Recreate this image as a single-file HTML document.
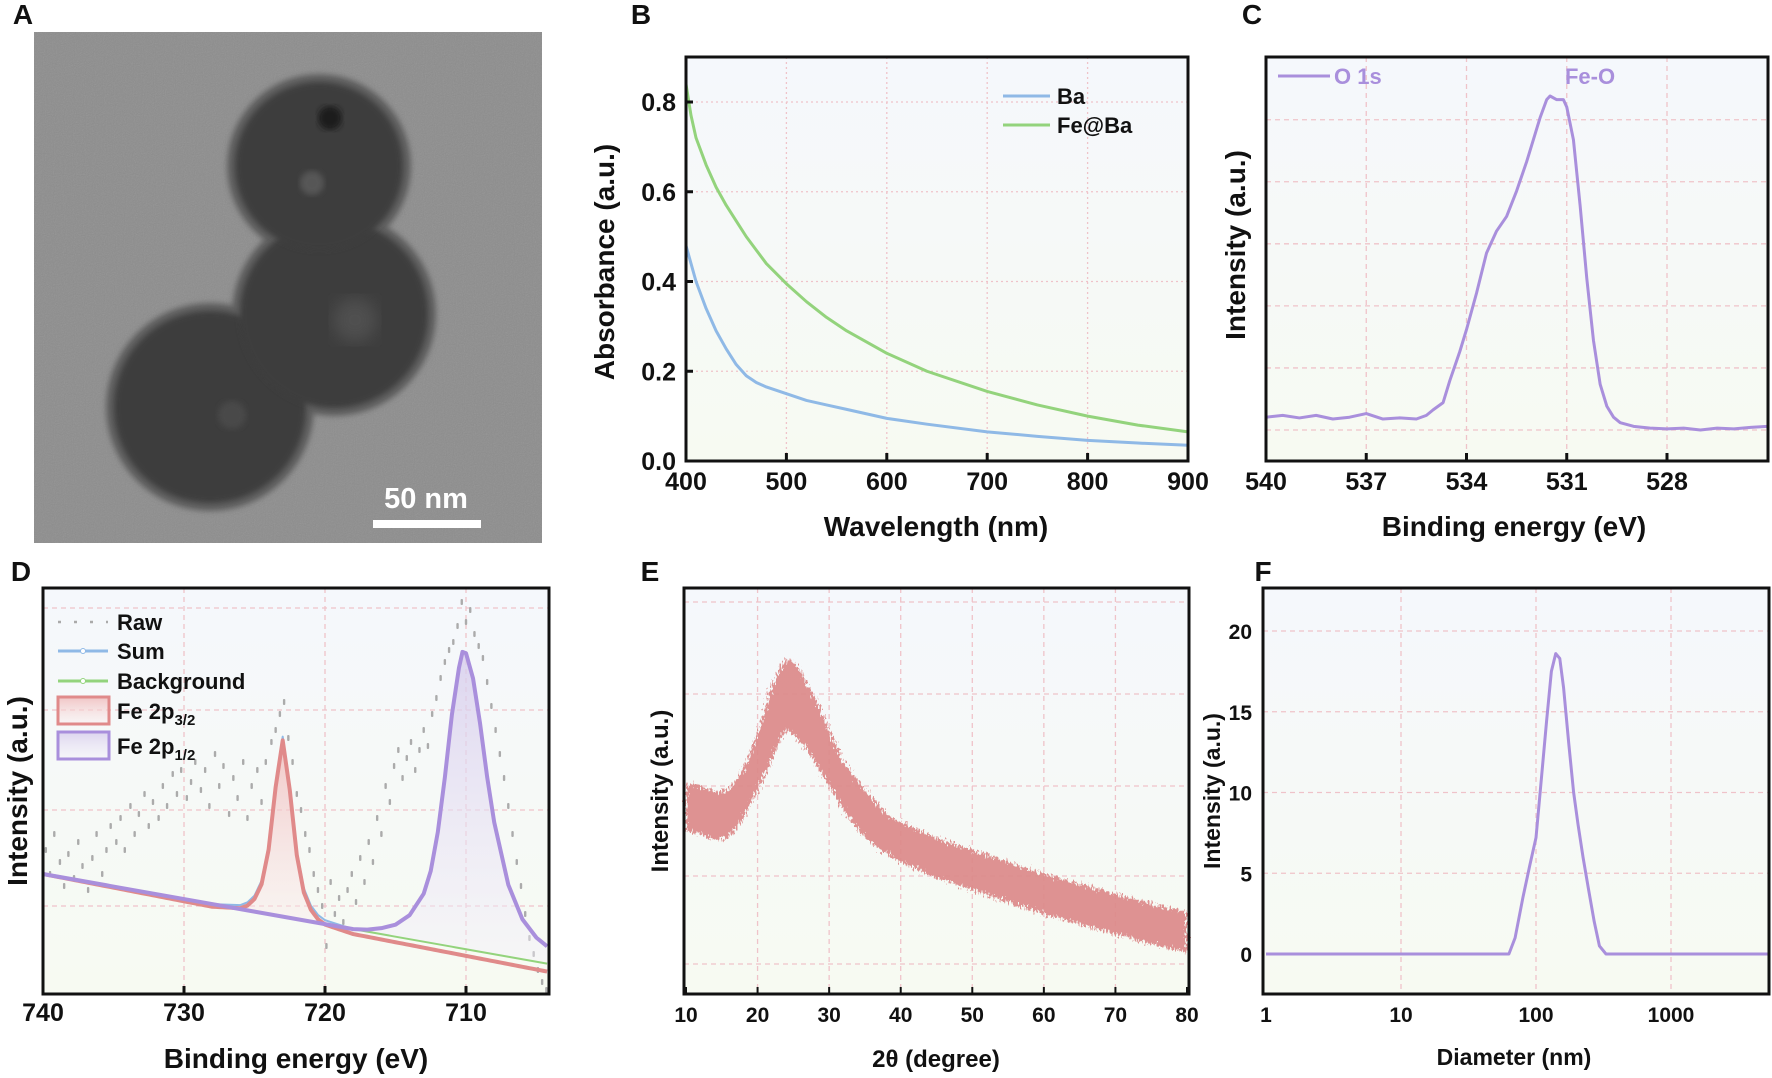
<!DOCTYPE html>
<html><head><meta charset="utf-8"><style>
html,body{margin:0;padding:0;background:#fff;}
svg{display:block;font-family:"Liberation Sans",Arial,sans-serif;font-weight:bold;}
</style></head><body>
<svg id="fig" width="1772" height="1078" viewBox="0 0 1772 1078" xmlns="http://www.w3.org/2000/svg">
<defs>
<linearGradient id="bgGrad" x1="0" y1="0" x2="0" y2="1"><stop offset="0" stop-color="#f5f8fc"/><stop offset="1" stop-color="#f7faf2"/></linearGradient>
<linearGradient id="redFill" x1="0" y1="0" x2="0" y2="1"><stop offset="0" stop-color="#f0b8b8" stop-opacity="0.8"/><stop offset="1" stop-color="#fbeeee" stop-opacity="0.4"/></linearGradient>
<linearGradient id="purFill" x1="0" y1="0" x2="0" y2="1"><stop offset="0" stop-color="#d6ccec" stop-opacity="0.8"/><stop offset="1" stop-color="#f4f0fa" stop-opacity="0.4"/></linearGradient>
<filter id="noise" x="0" y="0" width="1" height="1"><feTurbulence type="fractalNoise" baseFrequency="0.9" numOctaves="2" seed="3"/><feColorMatrix type="saturate" values="0"/><feComponentTransfer><feFuncA type="linear" slope="0.35"/></feComponentTransfer></filter>
<filter id="rough"><feTurbulence type="fractalNoise" baseFrequency="0.6 0.25" numOctaves="2" seed="5" result="t"/><feDisplacementMap in="SourceGraphic" in2="t" scale="14" xChannelSelector="R" yChannelSelector="G"/></filter>
<filter id="blur3"><feGaussianBlur stdDeviation="3"/></filter>
<filter id="blur8"><feGaussianBlur stdDeviation="8"/></filter>
</defs>
<g id="root"></g>
</svg>
<script>
// ---------- DATA ----------
// Panel B
const bWave = [400,405,410,420,430,440,450,460,470,480,500,520,540,560,600,640,700,750,800,850,900];
const bBa =   [0.48,0.44,0.40,0.34,0.29,0.25,0.215,0.19,0.175,0.165,0.15,0.135,0.125,0.115,0.095,0.082,0.065,0.055,0.046,0.04,0.035];
const bFeBa = [0.84,0.77,0.72,0.66,0.61,0.57,0.535,0.50,0.47,0.44,0.395,0.355,0.32,0.29,0.24,0.20,0.155,0.125,0.10,0.08,0.065];
const bXTicks = [400,500,600,700,800,900];
const bYTicks = [0.0,0.2,0.4,0.6,0.8];
// Panel C
const cEnergy = [540,539.5,539,538.5,538,537.5,537,536.5,536,535.5,535.2,535,534.7,534.5,534.2,534,533.7,533.4,533.1,532.8,532.5,532.2,532,531.8,531.6,531.5,531.3,531.1,531,530.8,530.6,530.4,530.2,530,529.8,529.6,529.4,529,528.5,528,527.5,527,526.5,526,525.5,525];
const cInt =    [0.12,0.125,0.118,0.125,0.115,0.12,0.13,0.115,0.118,0.115,0.125,0.14,0.16,0.22,0.30,0.36,0.46,0.57,0.63,0.67,0.74,0.82,0.88,0.94,0.99,1.0,0.99,0.99,0.97,0.88,0.70,0.50,0.33,0.21,0.15,0.12,0.105,0.095,0.09,0.088,0.09,0.085,0.09,0.088,0.092,0.095];
const cXTicks = [540,537,534,531,528];
const cGrid = [0.085,0.255,0.425,0.595,0.765,0.935];
// Panel D
const dBgEnds = [30,7.5];
const dRedE = [728,727,726,725.5,725,724.5,724,723.5,723,722.5,722,721.5,721,720.5,720,719,718];
const dRedV = [0,0.5,1,2,4,8,17,33,45,33,17,8,4,2,1,0.5,0];
const dPurE = [718,717,716,715,714,713,712.5,712,711.5,711,710.5,710.2,710,709.5,709,708.5,708,707,706,705,704.1];
const dPurV = [0,0.5,1.5,3,6,12,18,28,42,58,70,75,74,68,57,44,33,18,10,6,4];
const dRawE = [739.8,739.5,739.2,738.8,738.5,738.2,737.8,737.5,737.2,736.8,736.5,736.2,735.8,735.5,735.2,734.8,734.5,734.2,733.8,733.5,733.2,732.8,732.5,732.2,731.8,731.5,731.2,730.8,730.5,730.2,729.8,729.5,729.2,728.8,728.5,728.2,727.8,727.5,727.2,726.8,726.5,726.2,725.8,725.5,725.2,724.8,724.5,724.2,723.8,723.5,723.2,722.9,722.6,722.3,722,721.7,721.4,721.1,720.8,720.5,720.2,719.9,719.6,719.3,719,718.7,718.4,718.1,717.8,717.5,717.2,716.9,716.6,716.3,716,715.7,715.4,715.1,714.8,714.5,714.2,713.9,713.6,713.3,713,712.7,712.4,712.1,711.8,711.5,711.2,710.9,710.6,710.3,710,709.7,709.4,709.1,708.8,708.5,708.2,707.9,707.6,707.3,707,706.7,706.4,706.1,705.8,705.5,705.2,704.9,704.6,704.3];
const dRawV = [36,30,40,33,27,35,29,38,32,26,34,40,30,36,42,38,44,36,47,40,45,50,42,48,44,52,47,55,50,56,49,53,58,51,56,47,60,52,57,45,54,49,58,44,52,56,48,58,63,66,70,73,64,58,50,46,40,36,30,26,22,12,28,20,24,18,26,30,23,34,28,38,33,44,40,52,48,57,61,54,59,63,56,61,66,62,70,74,79,83,86,88,92,98,93,96,90,87,84,78,72,66,60,54,47,40,33,27,20,14,10,6,3,1];
const dXTicks = [740,730,720,710];
const dGrid = [22,46,71,96.5];
// Panel E
const eAngle = [10,12,14,16,18,20,21,22,23,24,25,26,27,28,30,32,35,38,40,45,50,55,60,65,70,75,80];
const eCenter = [46.5,46,44.5,45,50,58,63,68,72,75,74,72,69,66,59,52,45,40,38,34,31,28,25,22.5,20,17.5,15.5];
const eSpread = [6,6,6,6,6,7,8,9,9,9,9,9,8,8,7,6,6,5,5,5,5,5,5,5,5,5,5];
const eXTicks = [10,20,30,40,50,60,70,80];
const eGrid = [7.5,29.5,52,75,98];
// Panel F
const fDiam = [1,10,50,63,70,80,90,100,110,120,130,140,150,160,175,190,205,223,245,270,295,330,1000,5400];
const fInt =  [0,0,0,0,1,3.5,5.5,7.2,11,14.5,17.5,18.6,18.3,16.5,13,10,8,6,4,2,0.5,0,0,0];
const fXTicks = [1,10,100,1000];
const fYTicks = [0,5,10,15,20];

// ---------- HELPERS ----------
const NS = "http://www.w3.org/2000/svg";
const root = document.getElementById('root');
function el(tag, attrs, parent){ const e=document.createElementNS(NS,tag); for(const k in attrs) e.setAttribute(k,attrs[k]); (parent||root).appendChild(e); return e; }
function txt(s, x, y, size, anchor, parent, extra){ const t=el('text',Object.assign({x:x,y:y,'font-size':size,'text-anchor':anchor||'middle',fill:'#111'},extra||{}),parent); t.textContent=s; return t; }
function interp(xs, ys, x){ if((x-xs[0])*(x-xs[xs.length-1])>0) return 0; for(let i=0;i<xs.length-1;i++){ const a=xs[i],b=xs[i+1]; if((x-a)*(x-b)<=0){ const t=(x-a)/(b-a||1); return ys[i]+t*(ys[i+1]-ys[i]); } } return 0; }
const GRID = '#efc3c9';
function box(g,x0,y0,x1,y1){ const r=el('rect',{x:x0,y:y0,width:x1-x0,height:y1-y0,fill:'url(#bgGrad)'},g);   }
function frame(g,x0,y0,x1,y1){ const r=el('rect',{x:x0,y:y0,width:x1-x0,height:y1-y0,fill:'none',stroke:'#111','stroke-width':3},g);   }
function vgrid(g,x,y0,y1,dash){ el('line',{x1:x,x2:x,y1:y0,y2:y1,stroke:GRID,'stroke-width':1.3,'stroke-dasharray':dash||'5,4'},g); }
function hgrid(g,y,x0,x1,dash){ el('line',{x1:x0,x2:x1,y1:y,y2:y,stroke:GRID,'stroke-width':1.3,'stroke-dasharray':dash||'5,4'},g); }
function group(name){ const g=el('g',{});   return g; }
function letter(s,x,y){ const t=txt(s,x,y,28,'middle');   }

// ---------- PANEL A (TEM) ----------
(function(){
  const g=group('panel-a-tem-image');
  el('rect',{x:34,y:32,width:508,height:511,fill:'#8d8d8d'},g);
  el('rect',{x:34,y:32,width:508,height:511,fill:'#fff',filter:'url(#noise)',opacity:0.5},g);
  const blobs=[[210,407,100],[334,314,98],[319,166,88]];
  blobs.forEach(b=>{ el('circle',{cx:b[0],cy:b[1],r:b[2]+4,fill:'#5e5e5e',filter:'url(#blur3)'},g); });
  blobs.forEach(b=>{ el('circle',{cx:b[0],cy:b[1],r:b[2]-4,fill:'#3e3e3e',filter:'url(#blur3)'},g); });
  el('circle',{cx:330,cy:118,r:12,fill:'#1c1c1c',filter:'url(#blur3)'},g);
  el('circle',{cx:312,cy:183,r:12,fill:'#575757',filter:'url(#blur3)'},g);
  el('circle',{cx:355,cy:320,r:22,fill:'#4f4f4f',filter:'url(#blur8)'},g);
  el('circle',{cx:232,cy:415,r:14,fill:'#4a4a4a',filter:'url(#blur3)'},g);
  const sb=el('rect',{x:373,y:520,width:108,height:8,fill:'#fff'},g);
   
  const st=txt('50 nm',426,508,29,'middle',g,{fill:'#fff'});
   
  letter('A',23,24);
})();

// ---------- PANEL B ----------
(function(){
  const g=group('panel-b-absorbance-chart');
  const x0=686,x1=1188,y0=57,y1=461;
  const X=v=>686+(v-400)*(1188-686)/500, Y=v=>461-v*448.75;
  box(g,x0,y0,x1,y1);
  bXTicks.slice(1,-1).forEach(t=>vgrid(g,X(t),y0,y1,'2,3'));
  bYTicks.slice(1).forEach(t=>hgrid(g,Y(t),x0,x1,'2,3'));
  const mk=(arr,col,name)=>{ const p=el('polyline',{points:bWave.map((w,i)=>X(w)+','+Y(arr[i])).join(' '),fill:'none',stroke:col,'stroke-width':3,'stroke-linejoin':'round'},g);   };
  mk(bBa,'#8fb9e6','line-ba'); mk(bFeBa,'#93d37c','line-fe-at-ba');
  frame(g,x0,y0,x1,y1);
  bXTicks.forEach(t=>{ el('line',{x1:X(t),x2:X(t),y1:y1,y2:y1-8,stroke:'#111','stroke-width':3},g); const l=txt(String(t),X(t),490,25,'middle',g);   });
  bYTicks.forEach(t=>{ el('line',{x1:x0,x2:x0+7,y1:Y(t),y2:Y(t),stroke:'#111','stroke-width':3},g); const l=txt(t.toFixed(1),676,Y(t)+9,25,'end',g);   });
  const lg=group('legend-b'); g.appendChild(lg);
  el('line',{x1:1003,x2:1050,y1:96,y2:96,stroke:'#8fb9e6','stroke-width':3},lg); txt('Ba',1057,104,22,'start',lg);
  el('line',{x1:1003,x2:1050,y1:125,y2:125,stroke:'#93d37c','stroke-width':3},lg); txt('Fe@Ba',1057,133,22,'start',lg);
  const xt=txt('Wavelength (nm)',936,536,28,'middle',g);  
  const yt=txt('Absorbance (a.u.)',0,0,28,'middle',g,{transform:'translate(614,262) rotate(-90)'});  
  letter('B',641,24);
})();

// ---------- PANEL C ----------
(function(){
  const g=group('panel-c-o1s-chart');
  const x0=1266,x1=1768,y0=57,y1=461;
  const X=e=>1266+(540-e)*100.25/3, Y=v=>461-v*365;
  box(g,x0,y0,x1,y1);
  cXTicks.slice(1).forEach(t=>vgrid(g,X(t),y0,y1));
  cGrid.forEach(v=>hgrid(g,Y(v),x0,x1));
  const p=el('polyline',{points:cEnergy.map((e,i)=>X(e)+','+Y(cInt[i])).join(' '),fill:'none',stroke:'#a98fdc','stroke-width':3,'stroke-linejoin':'round'},g);
   
  frame(g,x0,y0,x1,y1);
  cXTicks.forEach(t=>{ el('line',{x1:X(t),x2:X(t),y1:y1,y2:y1-8,stroke:'#111','stroke-width':3},g); const l=txt(String(t),X(t),490,25,'middle',g);   });
  const lg=group('legend-c'); g.appendChild(lg);
  el('line',{x1:1278,x2:1330,y1:76,y2:76,stroke:'#a98fdc','stroke-width':3},lg); txt('O 1s',1334,84,22,'start',lg,{fill:'#a98fdc'});
  const an=txt('Fe-O',1590,84,22,'middle',g,{fill:'#a98fdc'});  
  const xt=txt('Binding energy (eV)',1514,536,28,'middle',g);  
  const yt=txt('Intensity (a.u.)',0,0,28,'middle',g,{transform:'translate(1245,245) rotate(-90)'});  
  letter('C',1252,24);
})();

// ---------- PANEL D ----------
(function(){
  const g=group('panel-d-fe2p-chart');
  const x0=43,x1=549,y0=588,y1=994;
  const X=e=>43+(740-e)*14.1, Y=v=>994-v*4;
  const bg=e=>dBgEnds[0]+(740-e)/(740-704.1)*(dBgEnds[1]-dBgEnds[0]);
  box(g,x0,y0,x1,y1);
  dXTicks.slice(1).forEach(t=>vgrid(g,X(t),y0,y1));
  dGrid.forEach(v=>hgrid(g,Y(v),x0,x1));
  dRawE.forEach((e,i)=>{ const r=el('rect',{x:X(e)-1.2,y:Y(dRawV[i])-3,width:2.4,height:6,rx:1,fill:'#ababab'},g);   });
  const es=[]; for(let e=740;e>=704.1;e-=0.25) es.push(e);
  const redTop=es.filter(e=>e<=728&&e>=718);
  el('polygon',{points:redTop.map(e=>X(e)+','+Y(bg(e)+interp(dRedE,dRedV,e))).join(' ')+' '+redTop.slice().reverse().map(e=>X(e)+','+Y(bg(e))).join(' '),fill:'url(#redFill)'},g);
  const purTop=es.filter(e=>e<=718);
  el('polygon',{points:purTop.map(e=>X(e)+','+Y(bg(e)+interp(dPurE,dPurV,e))).join(' ')+' '+purTop.slice().reverse().map(e=>X(e)+','+Y(bg(e))).join(' '),fill:'url(#purFill)'},g);
  const line=(fn,col,name,w)=>{ const p=el('polyline',{points:es.map(e=>X(e)+','+Y(fn(e))).join(' '),fill:'none',stroke:col,'stroke-width':w||3,'stroke-linejoin':'round'},g);   return p; };
  line(e=>bg(e),'#93d37c','line-background',2);
  line(e=>bg(e)+interp(dRedE,dRedV,e)+interp(dPurE,dPurV,e),'#8fb9e6','line-sum',2);
  line(e=>bg(e)-(740-e)/36*2+interp(dRedE,dRedV,e),'#e08a8a','line-fe-2p3-2',4);
  line(e=>bg(e)+interp(dPurE,dPurV,e),'#a98fdc','line-fe-2p1-2',4);
  frame(g,x0,y0,x1,y1);
  dXTicks.forEach(t=>{ el('line',{x1:X(t),x2:X(t),y1:y1,y2:y1-8,stroke:'#111','stroke-width':3},g); const l=txt(String(t),X(t),1021,25,'middle',g);   });
  const lg=group('legend-d'); g.appendChild(lg);
  el('line',{x1:58,x2:108,y1:622,y2:622,stroke:'#aaa','stroke-width':2.5,'stroke-dasharray':'3,13'},lg); txt('Raw',117,630,22,'start',lg);
  el('line',{x1:58,x2:108,y1:651,y2:651,stroke:'#8fb9e6','stroke-width':3},lg); el('circle',{cx:83,cy:651,r:2.5,fill:'#fff',stroke:'#8fb9e6'},lg); txt('Sum',117,659,22,'start',lg);
  el('line',{x1:58,x2:108,y1:681,y2:681,stroke:'#93d37c','stroke-width':3},lg); el('circle',{cx:83,cy:681,r:2.5,fill:'#fff',stroke:'#93d37c'},lg); txt('Background',117,689,22,'start',lg);
  el('rect',{x:58,y:697,width:51,height:27,fill:'url(#redFill)',stroke:'#e08a8a','stroke-width':3},lg);
  const t1=txt('Fe 2p',117,719,22,'start',lg); const s1=el('tspan',{'font-size':15,dy:6},t1); s1.textContent='3/2';
  el('rect',{x:58,y:732,width:51,height:27,fill:'url(#purFill)',stroke:'#a98fdc','stroke-width':3},lg);
  const t2=txt('Fe 2p',117,754,22,'start',lg); const s2=el('tspan',{'font-size':15,dy:6},t2); s2.textContent='1/2';
  const xt=txt('Binding energy (eV)',296,1068,28,'middle',g);  
  const yt=txt('Intensity (a.u.)',0,0,28,'middle',g,{transform:'translate(27,791) rotate(-90)'});  
  letter('D',21,581);
})();

// ---------- PANEL E ----------
(function(){
  const g=group('panel-e-xrd-chart');
  const x0=684,x1=1189,y0=588,y1=994;
  const X=a=>686+(a-10)*(1187-686)/70, Y=v=>994-v*4;
  box(g,x0,y0,x1,y1);
  eXTicks.slice(1,-1).forEach(t=>vgrid(g,X(t),y0,y1));
  eGrid.forEach(v=>hgrid(g,Y(v),x0,x1));
  const top=eAngle.map((a,i)=>X(a)+','+Y(eCenter[i]+eSpread[i])).join(' ');
  const bot=eAngle.slice().reverse().map((a,i)=>{ const j=eAngle.length-1-i; return X(a)+','+Y(eCenter[j]-eSpread[j]); }).join(' ');
  const band=el('polygon',{points:top+' '+bot,fill:'#dc8a8a',opacity:0.92,filter:'url(#rough)'},g);
   
  frame(g,x0,y0,x1,y1);
  eXTicks.forEach(t=>{ el('line',{x1:X(t),x2:X(t),y1:y1,y2:y1-7,stroke:'#111','stroke-width':2},g); const l=txt(String(t),X(t),1022,21,'middle',g);   });
  const xt=txt('2θ (degree)',936,1067,24,'middle',g);  
  const yt=txt('Intensity (a.u.)',0,0,24,'middle',g,{transform:'translate(668,791) rotate(-90)'});  
  letter('E',650,581);
})();

// ---------- PANEL F ----------
(function(){
  const g=group('panel-f-dls-chart');
  const x0=1263,x1=1769,y0=588,y1=994;
  const X=d=>1266+135*Math.log10(d), Y=v=>954-v*16.15;
  box(g,x0,y0,x1,y1);
  fXTicks.slice(1).forEach(t=>vgrid(g,X(t),y0,y1));
  fYTicks.slice(1).forEach(t=>hgrid(g,Y(t),x0,x1));
  const p=el('polyline',{points:fDiam.map((d,i)=>Math.min(X(d),1768)+','+Y(fInt[i])).join(' '),fill:'none',stroke:'#a98fdc','stroke-width':3,'stroke-linejoin':'round'},g);
   
  frame(g,x0,y0,x1,y1);
  fXTicks.forEach(t=>{ const l=txt(String(t),X(t),1022,21,'middle',g);   });
  fYTicks.forEach(t=>{ const l=txt(String(t),1252,Y(t)+8,21,'end',g);   });
  const xt=txt('Diameter (nm)',1514,1065,23,'middle',g);  
  const yt=txt('Intensity (a.u.)',0,0,23,'middle',g,{transform:'translate(1220,791) rotate(-90)'});  
  letter('F',1263,581);
})();
</script>
</body></html>
